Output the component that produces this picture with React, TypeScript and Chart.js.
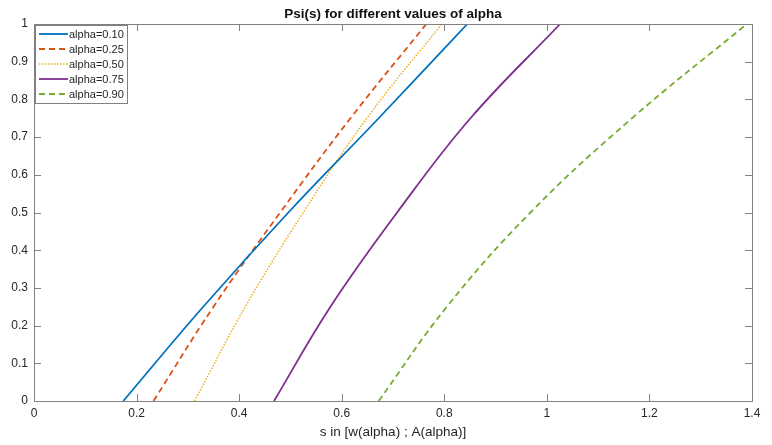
import React, { useEffect, useRef } from "react";
import { Chart, registerables } from "chart.js";

Chart.register(...registerables);

// Psi level at which each s value was taken
const psiLevels = [0, 0.25, 0.5, 0.75, 1];

// s values for each alpha, one entry per psi level
const sAlpha010 = [0.174, 0.33, 0.496, 0.672, 0.845];
const sAlpha025 = [0.233, 0.35, 0.48, 0.617, 0.765];
const sAlpha050 = [0.313, 0.412, 0.525, 0.649, 0.795];
const sAlpha075 = [0.468, 0.578, 0.708, 0.851, 1.026];
const sAlpha090 = [0.672, 0.805, 0.968, 1.166, 1.39];

const seriesLabels = ["alpha=0.10", "alpha=0.25", "alpha=0.50", "alpha=0.75", "alpha=0.90"];
const seriesValues = [sAlpha010, sAlpha025, sAlpha050, sAlpha075, sAlpha090];
const seriesColors = ["#0072BD", "#D95319", "#EDB120", "#7E2F8E", "#77AC30"];
const seriesDashes: number[][] = [[], [6, 4], [1.5, 1.5], [], [6, 4]];

const xTicks = [0, 0.2, 0.4, 0.6, 0.8, 1, 1.2, 1.4];
const yTicks = [0, 0.1, 0.2, 0.3, 0.4, 0.5, 0.6, 0.7, 0.8, 0.9, 1];

const titleText = "Psi(s) for different values of alpha";
const xLabelText = "s in [w(alpha) ; A(alpha)]";

const FONT = "'Liberation Sans', Arial, Helvetica, sans-serif";
const TEXT_COLOR = "#262626";
const AXIS_COLOR = "#808080";
const TICK_LEN = 7;

const fmt = (v: number) => String(parseFloat(Number(v).toFixed(2)));

// Draws the axes box with inward ticks, the title, the x label and the legend
const matlabFrame = {
  id: "matlabFrame",
  afterDraw(chart: any) {
    const { ctx, chartArea } = chart;
    const { left, right, top, bottom } = chartArea;
    const xs = chart.scales.x;
    const ys = chart.scales.y;
    ctx.save();

    // box
    ctx.strokeStyle = AXIS_COLOR;
    ctx.lineWidth = 1;
    ctx.setLineDash([]);
    ctx.strokeRect(Math.round(left) + 0.5, Math.round(top) + 0.5, Math.round(right - left), Math.round(bottom - top));

    // inward ticks
    ctx.beginPath();
    xTicks.forEach((v) => {
      const px = Math.round(xs.getPixelForValue(v)) + 0.5;
      ctx.moveTo(px, bottom);
      ctx.lineTo(px, bottom - TICK_LEN);
      ctx.moveTo(px, top);
      ctx.lineTo(px, top + TICK_LEN);
    });
    yTicks.forEach((v) => {
      const py = Math.round(ys.getPixelForValue(v)) + 0.5;
      ctx.moveTo(left, py);
      ctx.lineTo(left + TICK_LEN, py);
      ctx.moveTo(right, py);
      ctx.lineTo(right - TICK_LEN, py);
    });
    ctx.stroke();

    const cx = (left + right) / 2;

    // title
    ctx.fillStyle = "#111111";
    ctx.font = `bold 13.5px ${FONT}`;
    ctx.textAlign = "center";
    ctx.textBaseline = "alphabetic";
    ctx.fillText(titleText, cx, 18);

    // x label
    ctx.fillStyle = TEXT_COLOR;
    ctx.font = `13.5px ${FONT}`;
    ctx.fillText(xLabelText, cx, 436);

    // legend
    const lx = Math.round(left) + 1;
    const ly = Math.round(top) + 1;
    ctx.fillStyle = "#ffffff";
    ctx.fillRect(lx, ly, 92, 78);
    ctx.strokeStyle = AXIS_COLOR;
    ctx.strokeRect(lx + 0.5, ly + 0.5, 92, 78);
    ctx.font = `11px ${FONT}`;
    ctx.textAlign = "left";
    ctx.textBaseline = "middle";
    seriesLabels.forEach((label, i) => {
      const rowY = ly + 9 + 15 * i;
      ctx.strokeStyle = seriesColors[i];
      ctx.lineWidth = i === 2 ? 1.5 : 1.8;
      ctx.setLineDash(seriesDashes[i]);
      ctx.beginPath();
      ctx.moveTo(lx + 4, rowY);
      ctx.lineTo(lx + 33, rowY);
      ctx.stroke();
      ctx.setLineDash([]);
      ctx.fillStyle = TEXT_COLOR;
      ctx.fillText(label, lx + 34, rowY + 1);
    });

    ctx.restore();
  },
};

export default function App() {
  const canvasRef = useRef<HTMLCanvasElement | null>(null);

  useEffect(() => {
    if (!canvasRef.current) return;
    const datasets = seriesLabels.map((label, i) => ({
      label,
      data: seriesValues[i].map((s, k) => ({ x: s, y: psiLevels[k] })),
      borderColor: seriesColors[i],
      backgroundColor: seriesColors[i],
      borderWidth: i === 2 ? 1.5 : 1.8,
      borderDash: seriesDashes[i],
      pointRadius: 0,
      fill: false,
      tension: 0.4,
    }));

    const chart = new Chart(canvasRef.current, {
      type: "line",
      data: { datasets },
      options: {
        animation: false,
        responsive: false,
        devicePixelRatio: 1,
        layout: { padding: { top: 24, right: 20, left: 0, bottom: 0 } },
        plugins: {
          legend: { display: false },
          title: { display: false },
          tooltip: { enabled: false },
        },
        scales: {
          x: {
            type: "linear",
            min: 0,
            max: 1.4,
            grid: { display: false, drawTicks: false },
            border: { display: false },
            afterBuildTicks: (axis: any) => {
              axis.ticks = xTicks.map((v) => ({ value: v }));
            },
            afterFit: (axis: any) => {
              axis.height = 44;
            },
            ticks: {
              autoSkip: false,
              maxRotation: 0,
              padding: 5,
              color: TEXT_COLOR,
              font: { family: FONT, size: 12 },
              callback: (v: any) => fmt(v),
            },
          },
          y: {
            type: "linear",
            min: 0,
            max: 1,
            grid: { display: false, drawTicks: false },
            border: { display: false },
            afterBuildTicks: (axis: any) => {
              axis.ticks = yTicks.map((v) => ({ value: v }));
            },
            afterFit: (axis: any) => {
              axis.width = 34;
            },
            ticks: {
              autoSkip: false,
              padding: 6,
              color: TEXT_COLOR,
              font: { family: FONT, size: 12 },
              callback: (v: any) => fmt(v),
            },
          },
        },
      },
      plugins: [matlabFrame],
    });

    return () => chart.destroy();
  }, []);

  return (
    <div style={{ position: "fixed", left: 0, top: 0, width: 772, height: 445, background: "#ffffff" }}>
      <canvas ref={canvasRef} width={772} height={445} style={{ display: "block" }} />
    </div>
  );
}
